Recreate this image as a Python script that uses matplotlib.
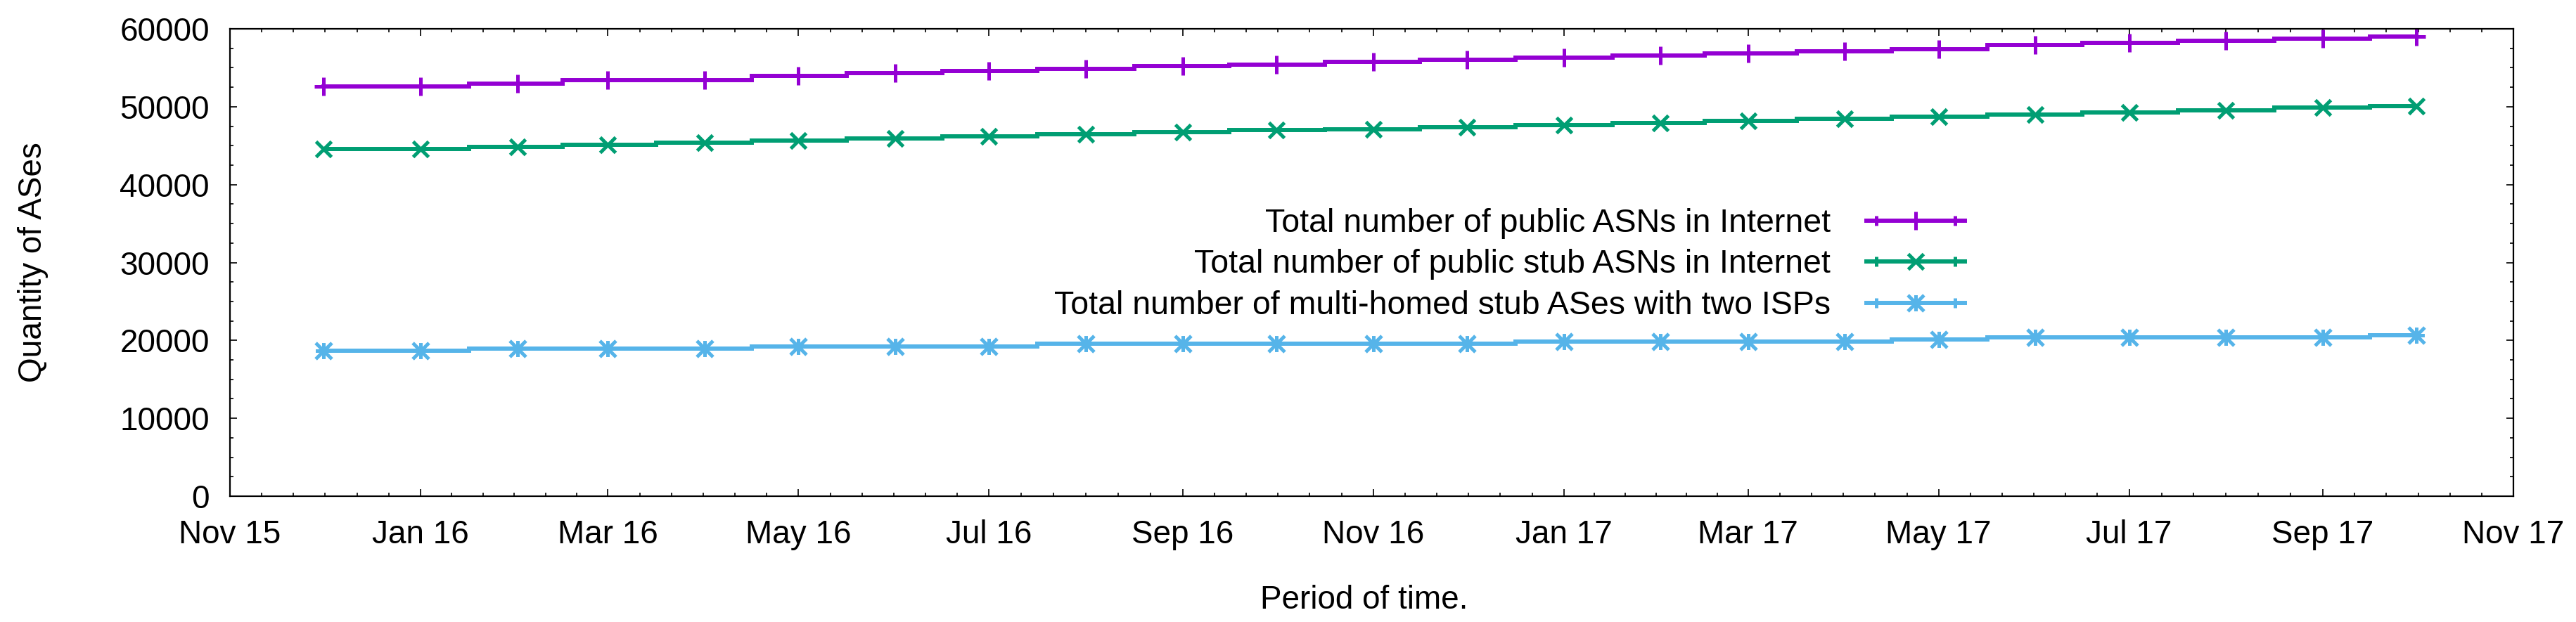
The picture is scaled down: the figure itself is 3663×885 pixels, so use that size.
import matplotlib
matplotlib.use('Agg')
import matplotlib.pyplot as plt
import matplotlib.dates as mdates
from matplotlib.lines import Line2D
from matplotlib.legend_handler import HandlerLine2D, HandlerTuple
from matplotlib.path import Path
from matplotlib.ticker import MultipleLocator, FixedLocator
import datetime as dt
import numpy as np

# ---------------- data ----------------
months = ['2015-12', '2016-01', '2016-02', '2016-03', '2016-04', '2016-05',
          '2016-06', '2016-07', '2016-08', '2016-09', '2016-10', '2016-11',
          '2016-12', '2017-01', '2017-02', '2017-03', '2017-04', '2017-05',
          '2017-06', '2017-07', '2017-08', '2017-09', '2017-10']

public_asns = [52620, 52620, 52930, 53450, 53450, 53990, 54360, 54630, 54880,
               55180, 55430, 55730, 56040, 56280, 56550, 56860, 57100, 57350,
               57930, 58230, 58510, 58780, 59020]

stub_asns = [44540, 44540, 44820, 45120, 45370, 45640, 45910, 46220, 46490,
             46740, 47040, 47070, 47350, 47620, 47900, 48170, 48410, 48720,
             48960, 49270, 49540, 49850, 50090]

multihomed_two_isps = [18660, 18660, 18930, 18930, 18930, 19210, 19210, 19210,
                       19570, 19570, 19570, 19570, 19570, 19850, 19850, 19850,
                       19850, 20090, 20400, 20400, 20400, 20400, 20670]

series_labels = ['Total number of public ASNs in Internet',
                 'Total number of public stub ASNs in Internet',
                 'Total number of multi-homed stub ASes with two ISPs']
series_colors = ['#9400D3', '#009E73', '#56B4E9']

x_start, x_end = '2015-11-01', '2017-11-01'
y_min, y_max = 0, 60000
x_label = 'Period of time.'
y_label = 'Quantity of ASes'

# ---------------- figure ----------------
plt.rcParams['font.family'] = ['Liberation Sans', 'DejaVu Sans']
W, H = 3663, 885
fig = plt.figure(figsize=(W / 100, H / 100), dpi=100)
L, R, T, B = 327, 3574, 41, 706
ax = fig.add_axes([L / W, 1 - B / H, (R - L) / W, (B - T) / H])

dates = [dt.datetime.strptime(m + '-01', '%Y-%m-%d') for m in months]
xd = mdates.date2num(dates)

ast_verts = [(0, -1), (0, 1), (-1, 0), (1, 0), (-1, -1), (1, 1), (-1, 1), (1, -1)]
ast_codes = [Path.MOVETO, Path.LINETO] * 4
asterisk = Path(ast_verts, ast_codes)
markers = ['+', 'x', asterisk]
msizes = [19, 16.5, 16.5]

lw = 4.3
mew = 3.6
all_series = [public_asns, stub_asns, multihomed_two_isps]
handles = []
for vals, col, mk, ms, lab in zip(all_series, series_colors, markers, msizes, series_labels):
    ax.plot(xd, vals, drawstyle='steps-mid', color=col, lw=lw, solid_joinstyle='miter')
    ax.plot(xd, vals, ls='none', marker=mk, ms=ms, mew=mew, color=col)
    main = Line2D([], [], color=col, lw=lw, marker=mk, ms=ms, mew=mew)
    caps = Line2D([], [], color=col, lw=0, marker='|', ms=10, mew=mew)
    handles.append((main, caps))

ax.set_xlim(mdates.datestr2num(x_start), mdates.datestr2num(x_end))
ax.set_ylim(y_min, y_max)

# ticks
ax.xaxis.set_major_locator(mdates.MonthLocator(bymonth=[1, 3, 5, 7, 9, 11]))
ax.xaxis.set_major_formatter(mdates.DateFormatter('%b %y'))
maj = ax.xaxis.get_major_locator()()
minor_pos = []
for a, b in zip(maj[:-1], maj[1:]):
    for k in range(1, 6):
        minor_pos.append(a + (b - a) * k / 6)
ax.xaxis.set_minor_locator(FixedLocator(minor_pos))
ax.yaxis.set_major_locator(MultipleLocator(10000))
ax.yaxis.set_minor_locator(MultipleLocator(2500))

ax.tick_params(axis='both', which='both', direction='in', top=True, right=True,
               labelsize=33, width=1.2, colors='black')
ax.tick_params(axis='both', which='major', length=7.5)
ax.tick_params(axis='both', which='minor', length=3.8)
ax.tick_params(axis='y', which='major', pad=21)
ax.tick_params(axis='x', which='major', pad=24)
for s in ax.spines.values():
    s.set_linewidth(1.6)

fig.text(1940 / W, 1 - 854 / H, x_label, ha='center', va='center', fontsize=33)
fig.text(47 / W, 1 - 373 / H, y_label, ha='center', va='center', fontsize=33, rotation=90)

cap_handler = HandlerLine2D(numpoints=2)
hmap = {h[1]: cap_handler for h in handles}
hmap[tuple] = HandlerTuple(ndivide=1)
for h in handles:
    hmap[h[0]] = HandlerLine2D(numpoints=1)

leg = fig.legend(handles, series_labels, handler_map=hmap,
                 loc='upper right', bbox_to_anchor=(2794 / W, 1 - 296 / H),
                 frameon=False, markerfirst=False, fontsize=33.5,
                 handlelength=3.0, handletextpad=1.1, labelspacing=0.31,
                 borderpad=0, borderaxespad=0)

fig.savefig('out.png', dpi=100)
